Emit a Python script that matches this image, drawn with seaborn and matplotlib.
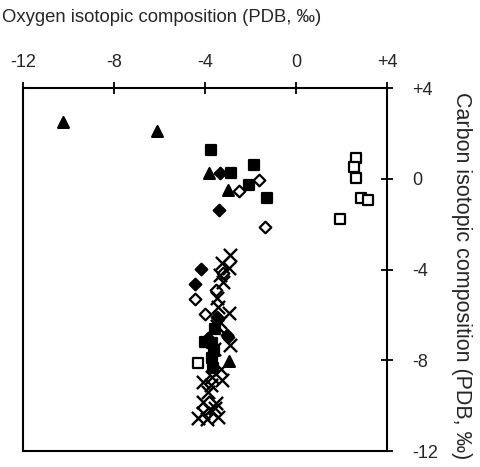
import numpy as np
import pandas as pd
import matplotlib
matplotlib.use("Agg")
import matplotlib.pyplot as plt
import seaborn as sns

# values (oxygen = x, carbon = y, PDB permil)
tri_x = [-10.24, -6.11, -3.82, -2.99, -2.95]
tri_y = [2.5, 2.1, 0.26, -0.49, -8.03]

sq_x = [-3.74, -2.86, -1.85, -2.07, -1.27, -4.0, -3.69, -3.69, -3.65, -3.6, -3.55]
sq_y = [1.27, 0.26, 0.61, -0.27, -0.85, -7.19, -7.23, -7.9, -8.33, -7.6, -6.6]

dia_x = [-3.34, -3.38, -4.18, -4.44, -3.87, -2.99, -3.03, -3.45]
dia_y = [0.26, -1.37, -3.97, -4.63, -7.0, -6.97, -6.88, -6.1]

odia_x = [-2.5, -1.63, -1.36, -4.44, -4.0, -3.2, -3.5]
odia_y = [-0.54, -0.05, -2.12, -5.3, -5.96, -4.15, -4.9]

osq_x = [2.64, 2.55, 2.64, 2.86, 3.16, 1.93, -4.31]
osq_y = [0.92, 0.52, 0.04, -0.85, -0.93, -1.77, -8.11]

x_x = [-2.9, -3.25, -2.95, -3.34, -3.2, -3.47, -3.43, -2.95, -3.34, -3.47, -2.9,
       -4.09, -3.69, -3.25, -3.87, -4.09, -4.31, -4.09, -3.78, -3.43, -3.56, -3.91,
       -3.6, -3.3, -3.75, -3.5]
x_y = [-3.36, -3.7, -3.93, -4.24, -4.55, -5.25, -5.65, -5.9, -6.3, -6.5, -7.32,
       -8.95, -8.73, -8.86, -9.39, -9.83, -10.54, -10.3, -10.2, -10.5, -10.1, -10.6,
       -7.5, -8.4, -9.1, -9.9]

x_ticks = [-12, -8, -4, 0, 4]
x_ticklabels = ['-12', '-8', '-4', '0', '+4']
y_ticks = [4, 0, -4, -8, -12]
y_ticklabels = ['+4', '0', '-4', '-8', '-12']

sns.set_style("white")
plt.rcParams['font.family'] = ['Liberation Sans', 'DejaVu Sans']

fig = plt.figure(figsize=(4.8, 4.67), dpi=100)
ax = fig.add_axes([0.048, 0.034, 0.758, 0.777])

groups = [
    (tri_x, tri_y, '^', 'black', 'black', 60),
    (sq_x, sq_y, 's', 'black', 'black', 45),
    (dia_x, dia_y, 'D', 'black', 'black', 35),
    (odia_x, odia_y, 'D', 'white', 'black', 35),
    (osq_x, osq_y, 's', 'white', 'black', 42),
]
for gx, gy, mk, fc, ec, sz in groups:
    df = pd.DataFrame({'oxygen': gx, 'carbon': gy})
    sns.scatterplot(data=df, x='oxygen', y='carbon', marker=mk, s=sz,
                    facecolor=fc, edgecolor=ec, linewidth=1.6, ax=ax, zorder=3)

df_x = pd.DataFrame({'oxygen': x_x, 'carbon': x_y})
sns.scatterplot(data=df_x, x='oxygen', y='carbon', marker='x', s=90,
                color='black', linewidth=1.7, ax=ax, zorder=4)

ax.set_xlim(-12, 4)
ax.set_ylim(-12, 4)
ax.set_xticks(x_ticks)
ax.set_xticklabels(x_ticklabels)
ax.set_yticks(y_ticks)
ax.set_yticklabels(y_ticklabels)
ax.xaxis.tick_top()
ax.yaxis.tick_right()
ax.tick_params(axis='both', direction='inout', length=9, width=1.3,
               color='black', labelsize=13, pad=8)
ax.tick_params(axis='y', pad=14)

for sp in ax.spines.values():
    sp.set_linewidth(1.5)
    sp.set_color('black')

ax.set_xlabel('')
ax.set_ylabel('')
fig.text(0.004, 0.963, 'Oxygen isotopic composition (PDB, \u2030)', fontsize=13.3,
         ha='left', va='center')
fig.text(0.962, 0.41, 'Carbon isotopic composition (PDB, \u2030)', fontsize=15.5,
         rotation=-90, ha='center', va='center')

fig.savefig('out.png', dpi=100)
